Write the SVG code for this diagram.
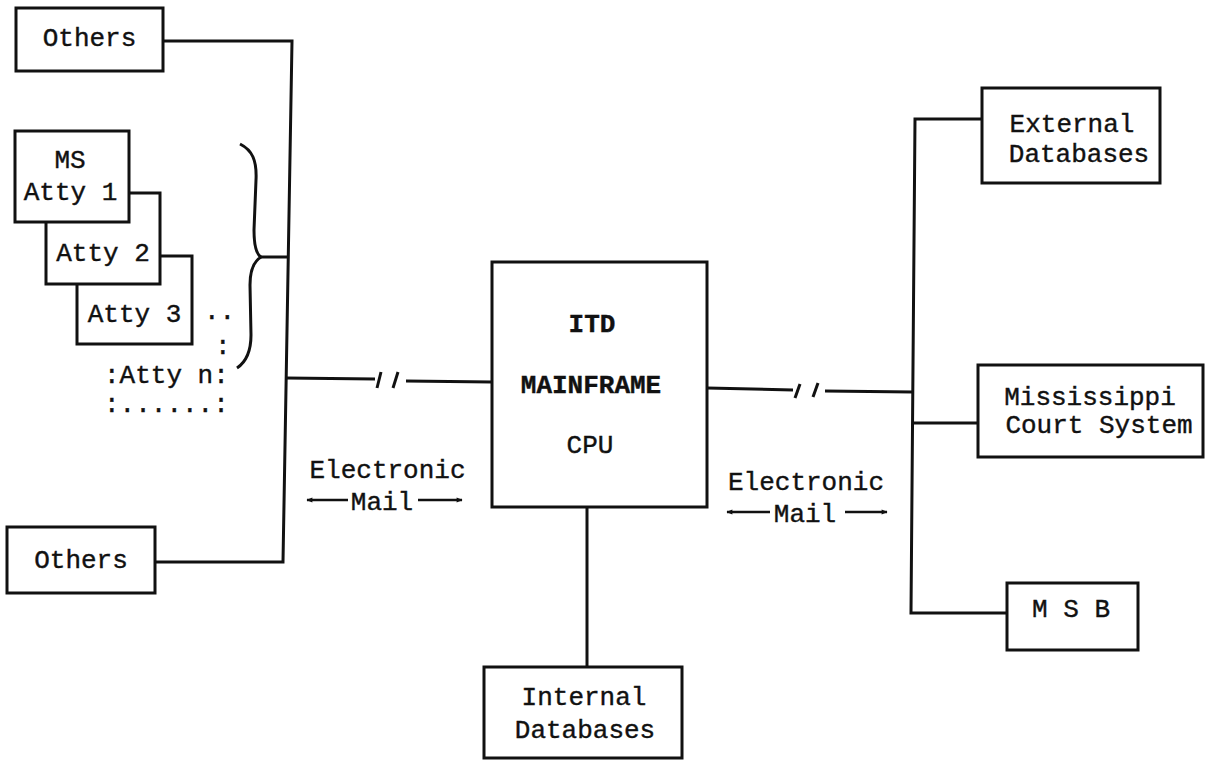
<svg xmlns="http://www.w3.org/2000/svg" width="1210" height="763" viewBox="0 0 1210 763">
<defs>
<style>
.box{fill:#fff;stroke:#111;stroke-width:3}
.ln{fill:none;stroke:#111;stroke-width:3}
.t{font-family:"Liberation Mono","DejaVu Sans Mono",monospace;font-size:26px;fill:#111;stroke:#111;stroke-width:0.4}
.m{text-anchor:middle}
.ar{fill:none;stroke:#111;stroke-width:2.5}
</style>
<marker id="ah" viewBox="0 0 10 10" refX="9" refY="5" markerWidth="7" markerHeight="6" markerUnits="userSpaceOnUse" orient="auto">
<path d="M0,1 L10,5 L0,9 z" fill="#111"/>
</marker>
</defs>
<rect width="1210" height="763" fill="#fff"/>

<g id="connectors">
<polyline class="ln" points="163,41 292,41 283,562 155,562"/>
<line class="ln" x1="260" y1="257" x2="288" y2="257"/>
<path class="ln" d="M240,144 C252,150 257,160 256,180 L254,230 C254,245 256,254 261,257 C256,260 250,268 250,285 L251,335 C251,352 246,362 237,368"/>
<line class="ln" x1="286" y1="378" x2="375" y2="379"/>
<line class="ln" x1="381" y1="372" x2="377" y2="388"/>
<line class="ln" x1="398" y1="372" x2="393" y2="388"/>
<line class="ln" x1="406" y1="381" x2="492" y2="382"/>
<line class="ln" x1="707" y1="388" x2="793" y2="390"/>
<line class="ln" x1="800" y1="384" x2="795" y2="398"/>
<line class="ln" x1="818" y1="383" x2="813" y2="397"/>
<line class="ln" x1="825" y1="391" x2="913" y2="392"/>
<polyline class="ln" points="982,119 915,119 911,613 1007,613"/>
<line class="ln" x1="913" y1="423" x2="978" y2="423"/>
<line class="ln" x1="587" y1="507" x2="587" y2="667"/>
<line class="ar" x1="348" y1="500" x2="307" y2="500" marker-end="url(#ah)"/>
<line class="ar" x1="418" y1="500" x2="462" y2="500" marker-end="url(#ah)"/>
<line class="ar" x1="770" y1="512" x2="727" y2="512" marker-end="url(#ah)"/>
<line class="ar" x1="845" y1="512" x2="887" y2="512" marker-end="url(#ah)"/>
</g>

<g id="others-top">
<rect class="box" x="16" y="8" width="147" height="63"/>
<text class="t m" x="89.5" y="46">Others</text>
</g>

<g id="atty3">
<rect class="box" x="77" y="256" width="115" height="88"/>
<text class="t m" x="134.5" y="322">Atty 3</text>
</g>
<g id="atty2">
<rect class="box" x="46" y="193" width="114" height="91"/>
<text class="t m" x="103" y="261">Atty 2</text>
</g>
<g id="atty1">
<rect class="box" x="15" y="131" width="114" height="91"/>
<text class="t m" x="70" y="168">MS</text>
<text class="t m" x="70.5" y="200">Atty 1</text>
</g>
<g id="atty-n">
<text class="t" x="204" y="319">..</text>
<text class="t" x="215" y="354">:</text>
<text class="t" x="104" y="383">:Atty n:</text>
<text class="t" x="104" y="412">:......:</text>
</g>

<g id="others-bottom">
<rect class="box" x="7" y="527" width="148" height="66"/>
<text class="t m" x="81" y="568">Others</text>
</g>

<g id="label-left">
<text class="t m" x="387.5" y="478">Electronic</text>
<text class="t m" x="382" y="510">Mail</text>
</g>
<g id="label-right">
<text class="t m" x="806" y="490">Electronic</text>
<text class="t m" x="805" y="522">Mail</text>
</g>

<g id="cpu">
<rect class="box" x="492" y="262" width="215" height="245"/>
<text class="t m" x="592" y="332" font-weight="bold">ITD</text>
<text class="t m" x="591" y="393" font-weight="bold">MAINFRAME</text>
<text class="t m" x="590" y="453">CPU</text>
</g>

<g id="internal-db">
<rect class="box" x="484" y="667" width="198" height="91"/>
<text class="t m" x="584" y="705">Internal</text>
<text class="t m" x="585" y="738">Databases</text>
</g>

<g id="external-db">
<rect class="box" x="982" y="88" width="178" height="95"/>
<text class="t m" x="1072" y="132">External</text>
<text class="t m" x="1079" y="162">Databases</text>
</g>

<g id="court">
<rect class="box" x="978" y="365" width="225" height="92"/>
<text class="t m" x="1090" y="405">Mississippi</text>
<text class="t m" x="1099" y="433">Court System</text>
</g>

<g id="msb">
<rect class="box" x="1007" y="583" width="131" height="67"/>
<text class="t m" x="1071" y="617">M S B</text>
</g>
</svg>
